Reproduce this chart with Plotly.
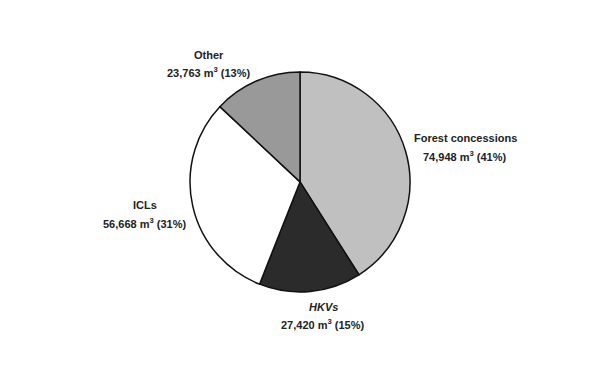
import plotly.graph_objects as go

categories = ["Forest concessions", "HKVs", "ICLs", "Other"]
volumes = [74948, 27420, 56668, 23763]
colors = ["#c0c0c0", "#2b2b2b", "#ffffff", "#999999"]
label_html = ["Forest concessions", "<i>HKVs</i>", "ICLs", "Other"]

total = sum(volumes)

fig = go.Figure(go.Pie(
    labels=categories,
    values=volumes,
    sort=False,
    direction="clockwise",
    rotation=0,
    marker=dict(colors=colors, line=dict(color="#111111", width=1.5)),
    textinfo="none",
    hoverinfo="label+value+percent",
    domain=dict(x=[0.3167, 0.6833], y=[0.209, 0.805]),
    showlegend=False,
))

# label anchor positions (pixels): x center, y center of each line
label_pos = [(465, 138, 156), (323, 307, 324), (145, 205, 223), (209, 55, 72)]
W, H = 600, 369
fnt = dict(family="Liberation Sans, Arial, sans-serif", size=11, color="#222222")
for name, v, (px, py1, py2) in zip(label_html, volumes, label_pos):
    pct = round(100 * v / total)
    lines = [f"<b>{name}</b>", f"<b>{v:,} m<sup>3</sup> ({pct}%)</b>"]
    for txt, py in zip(lines, (py1, py2)):
        fig.add_annotation(
            x=px / W, y=1 - py / H, xref="paper", yref="paper",
            text=txt, showarrow=False, xanchor="center", yanchor="middle",
            align="center", font=fnt,
        )

fig.update_layout(
    width=W, height=H,
    margin=dict(l=0, r=0, t=0, b=0),
    paper_bgcolor="white", plot_bgcolor="white",
    font=fnt,
)

fig.write_html("out.html")
